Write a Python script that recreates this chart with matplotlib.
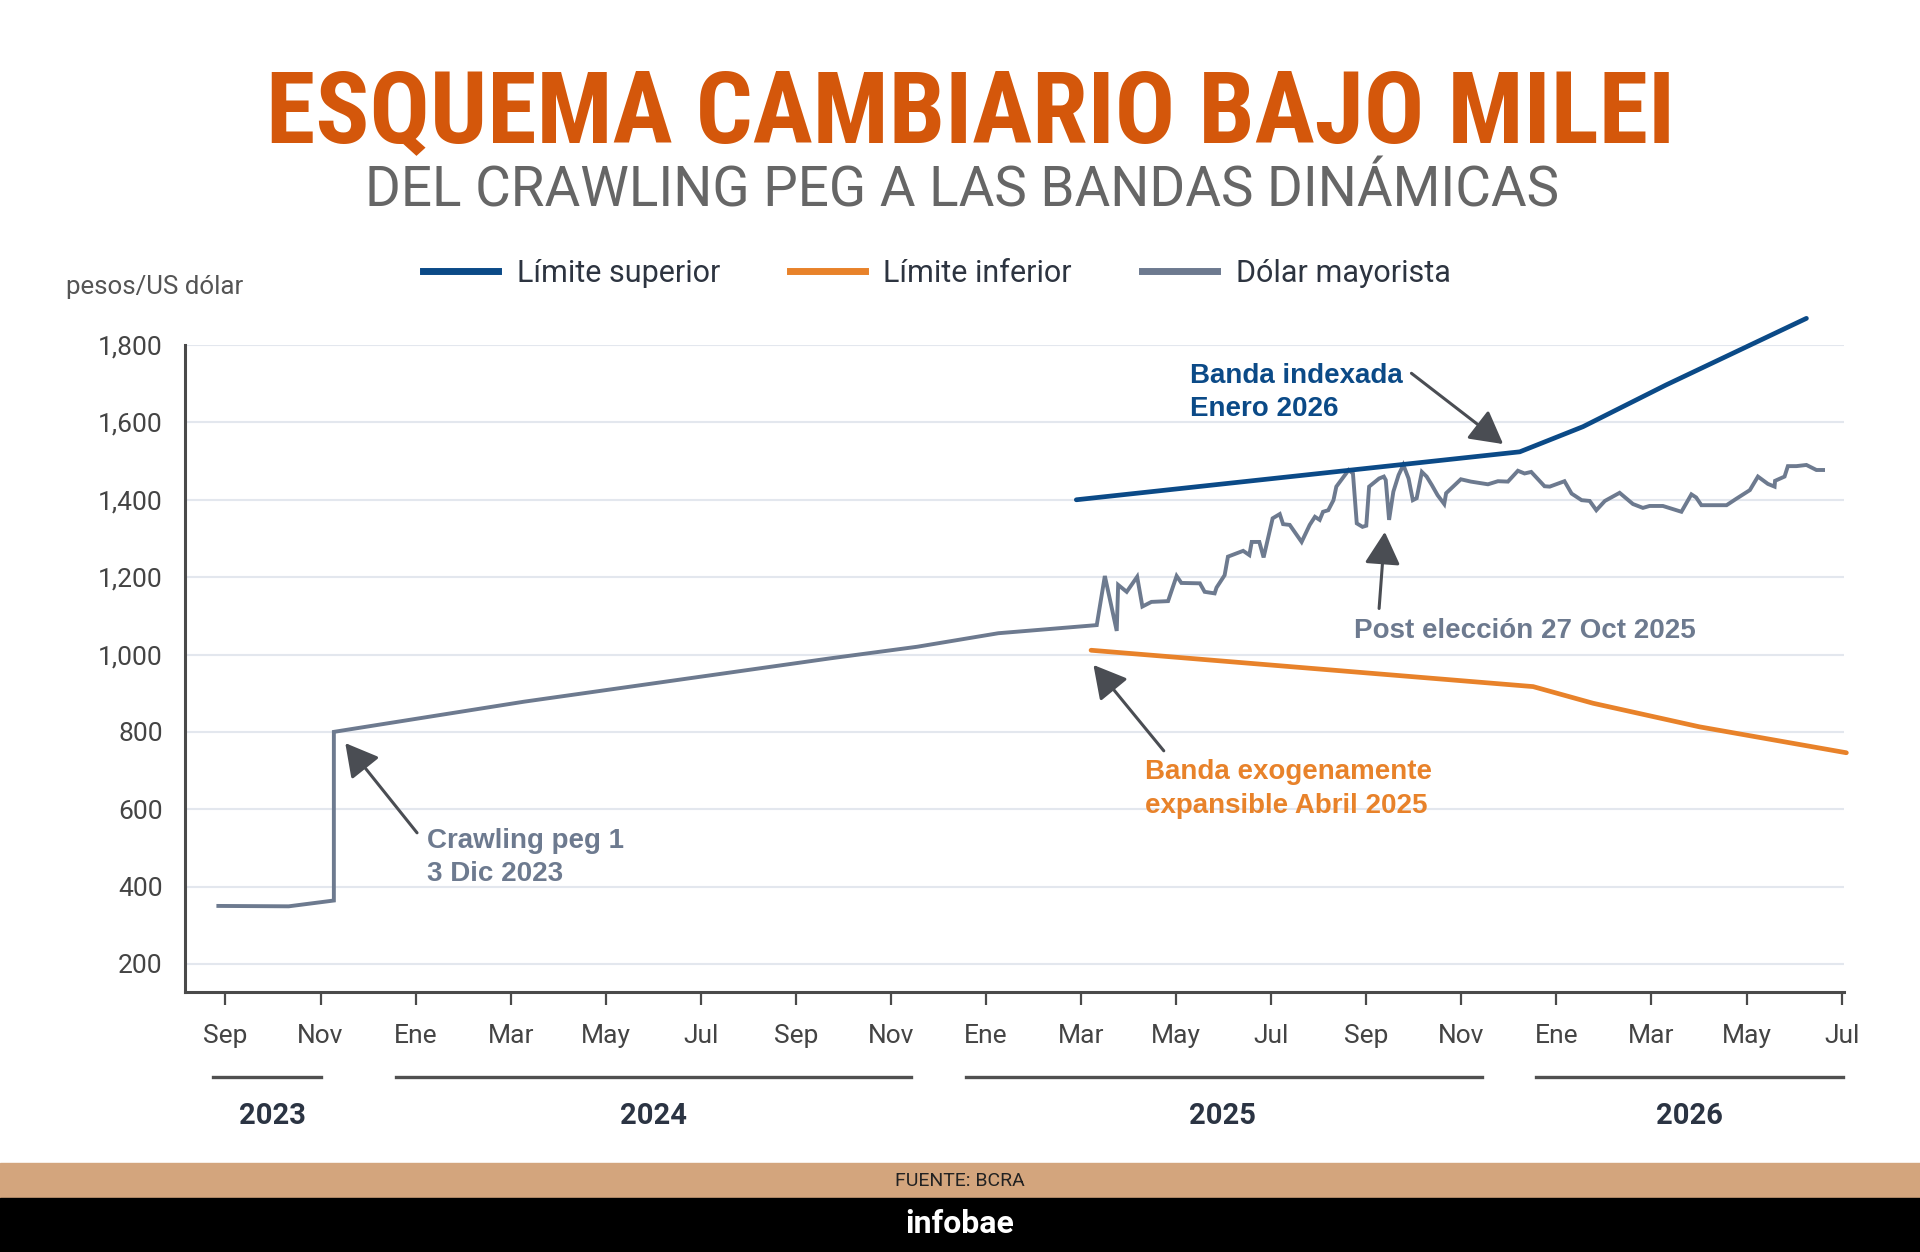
import matplotlib
matplotlib.use('Agg')
import matplotlib.pyplot as plt
from matplotlib.lines import Line2D
from matplotlib.patches import Rectangle

# x values are months since 1 Sep 2023 (as laid out on the chart)
dolar_x = [-0.15, 1.33, 2.28, 2.28, 6.28, 12.72, 14.55, 16.26, 18.33,
           18.5, 18.75, 18.78, 18.96, 19.18, 19.29, 19.48, 19.83, 20.01, 20.11,
           20.5, 20.6, 20.81, 20.85, 21.02, 21.09, 21.41, 21.54, 21.59, 21.75,
           21.84, 22.03, 22.18, 22.25, 22.39, 22.64, 22.81, 22.92, 23.02, 23.09,
           23.2, 23.31, 23.37, 23.63, 23.72, 23.8, 23.92, 24.0, 24.06, 24.27,
           24.37, 24.41, 24.48, 24.57, 24.68, 24.78, 24.89, 24.98, 25.06, 25.17,
           25.27, 25.38, 25.5, 25.64, 25.68, 25.99, 26.2, 26.56, 26.77, 26.98,
           27.19, 27.33, 27.47, 27.75, 27.86, 28.17, 28.32, 28.53, 28.7, 28.84,
           29.02, 29.33, 29.61, 29.82, 29.96, 30.24, 30.63, 30.84, 30.94, 31.05,
           31.58, 31.79, 32.07, 32.24, 32.45, 32.59, 32.6, 32.8, 32.87, 33.05,
           33.26, 33.47, 33.61]
dolar_y = [350, 349, 364, 800, 878, 990, 1020, 1055, 1076,
           1203, 1061, 1180, 1162, 1201, 1124, 1136, 1138, 1203, 1185,
           1184, 1162, 1158, 1173, 1205, 1253, 1268, 1257, 1291, 1291,
           1251, 1352, 1363, 1337, 1335, 1291, 1335, 1356, 1348, 1369,
           1373, 1399, 1434, 1477, 1468, 1339, 1330, 1333, 1434, 1455,
           1460, 1451, 1348, 1421, 1464, 1490, 1455, 1399, 1404, 1472,
           1460, 1438, 1412, 1389, 1417, 1453, 1447, 1440, 1448, 1447,
           1475, 1468, 1472, 1435, 1434, 1448, 1416, 1399, 1397, 1373,
           1397, 1418, 1389, 1379, 1384, 1384, 1369, 1414, 1406, 1386,
           1386, 1403, 1425, 1460, 1441, 1434, 1449, 1460, 1487, 1487,
           1490, 1477, 1477]

sup_x = [17.9, 27.23, 28.56, 30.31, 33.26]
sup_y = [1400, 1524, 1589, 1697, 1869]

inf_x = [18.21, 27.51, 28.77, 31.01, 34.1]
inf_y = [1011, 917, 874, 813, 746]

tick_pos = list(range(0, 35, 2))
tick_labels = ['Sep', 'Nov', 'Ene', 'Mar', 'May', 'Jul', 'Sep', 'Nov', 'Ene',
               'Mar', 'May', 'Jul', 'Sep', 'Nov', 'Ene', 'Mar', 'May', 'Jul']
years = ['2023', '2024', '2025', '2026']
year_spans = [(-0.26, 2.01), (3.58, 14.42), (15.58, 26.43), (27.58, 34.04)]
year_label_x = [0.98, 9.0, 20.98, 30.8]

BLUE = '#0b4a87'
ORANGE = '#e8822a'
GRAY = '#6d7a8f'
ARROW = '#4a4d53'

plt.rcParams['font.family'] = ['Roboto', 'DejaVu Sans']

fig = plt.figure(figsize=(19.2, 12.52), dpi=100)
ax = fig.add_axes([0.0964, 0.2077, 0.864, 0.5167])

ax.plot(dolar_x, dolar_y, color=GRAY, lw=2.8, zorder=3, solid_joinstyle='miter')
ax.plot(sup_x, sup_y, color=BLUE, lw=3.4, zorder=4, clip_on=False, solid_capstyle='round')
ax.plot(inf_x, inf_y, color=ORANGE, lw=3.4, zorder=4, clip_on=False, solid_capstyle='round')

ax.set_xlim(-0.85, 34.05)
ax.set_ylim(127.6, 1800)
ax.set_yticks(range(200, 1801, 200))
ax.set_yticklabels([f'{v:,}' for v in range(200, 1801, 200)])
ax.set_xticks(tick_pos)
ax.set_xticklabels(tick_labels)
ax.grid(axis='y', color='#e3e7ee', lw=1.5)
ax.set_axisbelow(True)
for s in ['top', 'right']:
    ax.spines[s].set_visible(False)
for s in ['left', 'bottom']:
    ax.spines[s].set_color('#4a4a4a')
    ax.spines[s].set_linewidth(2.2)
ax.tick_params(axis='y', length=0, pad=16, labelsize=19, labelcolor='#444444')
ax.tick_params(axis='x', length=9, width=1.6, color='#4a4a4a', pad=14,
               labelsize=19, labelcolor='#444444')

# year brackets under the month labels
xt = ax.get_xaxis_transform()
for (a, b), lx, yr in zip(year_spans, year_label_x, years):
    ax.plot([a, b], [-0.132, -0.132], color='#505050', lw=2.4, transform=xt, clip_on=False)
    ax.text(lx, -0.192, yr, transform=xt, ha='center', va='center',
            fontsize=21, fontweight='bold', color='#2b3443')

# annotations
afont = dict(family=['Liberation Sans', 'DejaVu Sans'], fontsize=20, fontweight='bold',
             va='center', ha='left', linespacing=1.38)
ax.text(4.24, 475, 'Crawling peg 1\n3 Dic 2023', color=GRAY, **afont)
ax.text(20.3, 1677, 'Banda indexada\nEnero 2026', color=BLUE, **afont)
ax.text(23.74, 1062, 'Post elección 27 Oct 2025', color=GRAY, **afont)
ax.text(19.34, 652, 'Banda exogenamente\nexpansible Abril 2025', color=ORANGE, **afont)

arrows = [((4.03, 539), (2.52, 771)),
          ((24.95, 1727), (26.88, 1544)),
          ((24.27, 1119), (24.39, 1317)),
          ((19.74, 751), (18.26, 973))]
for tail, tip in arrows:
    ax.annotate('', xy=tip, xytext=tail,
                arrowprops=dict(arrowstyle='-|>,head_length=1.0,head_width=0.55',
                                color=ARROW, lw=2.2, mutation_scale=20,
                                shrinkA=0, shrinkB=0), zorder=6)

# legend
handles = [Line2D([], [], color=BLUE, lw=5),
           Line2D([], [], color=ORANGE, lw=5),
           Line2D([], [], color=GRAY, lw=5)]
fig.legend(handles, ['Límite superior', 'Límite inferior', 'Dólar mayorista'],
           loc='center', bbox_to_anchor=(0.488, 0.7815), ncol=3, frameon=False,
           fontsize=22, handlelength=2.45, handletextpad=0.6, columnspacing=2.3,
           labelcolor='#2d3440')

fig.text(0.0344, 0.7705, 'pesos/US dólar', fontsize=18.6, color='#555555',
         ha='left', va='center')

# titles
title = fig.text(0.5057, 0.8868, 'ESQUEMA CAMBIARIO BAJO MILEI', ha='center', va='baseline',
                 family=['Roboto Condensed', 'Liberation Sans Narrow', 'Roboto'],
                 fontstretch='condensed', fontweight='bold', fontsize=78, color='#d4570b')
sub = fig.text(0.5008, 0.8347, 'DEL CRAWLING PEG A LAS BANDAS DINÁMICAS', ha='center',
               va='baseline', fontweight='normal', fontsize=38, color='#666666')

fig.canvas.draw()
r = fig.canvas.get_renderer()
for t, target in [(title, 1408), (sub, 1195)]:
    w = t.get_window_extent(r).width
    t.set_fontsize(t.get_fontsize() * target / w)

# footer
fig.add_artist(Rectangle((0, 0.0435), 1, 0.0276, transform=fig.transFigure,
                         color='#d3a57d', zorder=0))
fig.add_artist(Rectangle((0, 0), 1, 0.0435, transform=fig.transFigure,
                         color='#000000', zorder=0))
fig.text(0.5, 0.0565, 'FUENTE: BCRA', ha='center', va='center', fontsize=14, color='#222222')
fig.text(0.5, 0.0225, 'infobae', ha='center', va='center', fontsize=23,
         fontweight='bold', color='white')

fig.savefig('out.png', dpi=100)
